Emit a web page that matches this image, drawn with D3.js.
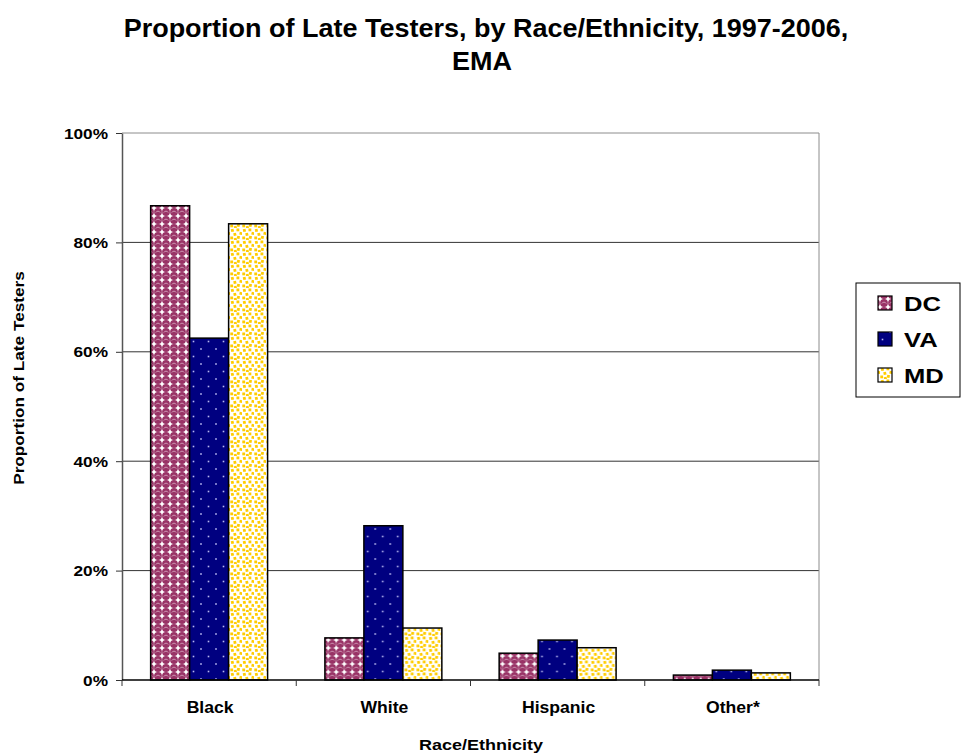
<!DOCTYPE html>
<html>
<head>
<meta charset="utf-8">
<script src="https://cdn.jsdelivr.net/npm/d3@7"></script>
<style>
  body { margin: 0; background: #fff; }
  svg { display: block; font-family: "Liberation Sans", Arial, sans-serif; }
</style>
</head>
<body>
<svg id="chart" width="963" height="753"></svg>
<script>
// Late testers by race/ethnicity, 1997-2006
const categories = ["Black", "White", "Hispanic", "Other*"];
const seriesNames = ["DC", "VA", "MD"];
const dcValues = [0.867, 0.077, 0.049, 0.009];
const vaValues = [0.625, 0.282, 0.073, 0.018];
const mdValues = [0.834, 0.095, 0.059, 0.013];
const yTicks = [0, 0.2, 0.4, 0.6, 0.8, 1.0];

const seriesValues = [dcValues, vaValues, mdValues];

const svg = d3.select("#chart");
const plot = { left: 122, right: 819, top: 133, bottom: 680 };

// Text helper: positioned via transform, with a slight horizontal stretch
function label(parent, x, y, text, size, sx, anchor, rotate) {
  const rot = rotate ? ` rotate(${rotate})` : "";
  return parent.append("text")
    .attr("transform", `translate(${x},${y})${rot} scale(${sx},1)`)
    .attr("text-anchor", anchor)
    .attr("font-size", size).attr("font-weight", "bold").attr("fill", "#000")
    .text(text);
}

// Fill patterns for each series
const defs = svg.append("defs");

// DC: maroon spheres on a square grid, white between them
const pDC = defs.append("pattern").attr("id", "pat-DC")
  .attr("patternUnits", "userSpaceOnUse").attr("width", 8).attr("height", 8);
pDC.append("rect").attr("width", 8).attr("height", 8).attr("fill", "#ffffff");
pDC.append("circle").attr("cx", 4).attr("cy", 4).attr("r", 3.9).attr("fill", "#993366");
pDC.append("path")
  .attr("d", "M1.8,4.6 A2.4,2.4 0 0 1 6.2,4.6")
  .attr("fill", "none").attr("stroke", "#d9a9c1").attr("stroke-width", 0.8);

// VA: navy with sparse light dots
const pVA = defs.append("pattern").attr("id", "pat-VA")
  .attr("patternUnits", "userSpaceOnUse").attr("width", 15).attr("height", 15);
pVA.append("rect").attr("width", 15).attr("height", 15).attr("fill", "#000080");
[[4, 4], [11.5, 11.5]].forEach(([cx, cy]) => {
  pVA.append("rect").attr("x", cx - 0.8).attr("y", cy - 0.8)
    .attr("width", 1.6).attr("height", 1.6).attr("fill", "#b8b8f0");
});

// MD: white with scattered yellow squares
const pMD = defs.append("pattern").attr("id", "pat-MD")
  .attr("patternUnits", "userSpaceOnUse").attr("width", 12).attr("height", 12);
pMD.append("rect").attr("width", 12).attr("height", 12).attr("fill", "#ffffff");
[[1, 1], [6.5, 0.5], [9.5, 4], [3.5, 5], [0.3, 8.5], [7, 8], [4, 10]].forEach(([x, y], i) => {
  pMD.append("rect").attr("x", x).attr("y", y).attr("width", 2.8).attr("height", 2.8)
    .attr("fill", "#ffcc00")
    .attr("transform", `rotate(${(i % 3) * 12 - 12},${x + 1.4},${y + 1.4})`);
});

const fills = { DC: "url(#pat-DC)", VA: "url(#pat-VA)", MD: "url(#pat-MD)" };

// Scales
const x0 = d3.scaleBand().domain(categories).range([plot.left, plot.right]).paddingInner(0).paddingOuter(0);
const x1 = d3.scaleBand().domain(seriesNames).range([0, x0.bandwidth()]).paddingInner(0).paddingOuter(0.735);
const y = d3.scaleLinear().domain([0, 1]).range([plot.bottom, plot.top]);

// Gridlines
svg.append("g").selectAll("line").data(yTicks.filter(t => t > 0)).join("line")
  .attr("x1", plot.left).attr("x2", plot.right)
  .attr("y1", d => y(d)).attr("y2", d => y(d))
  .attr("stroke", d => d === 1 ? "#8c8c8c" : "#333").attr("stroke-width", 1);

// Right border of plot area
svg.append("line").attr("x1", plot.right).attr("x2", plot.right)
  .attr("y1", plot.top).attr("y2", plot.bottom)
  .attr("stroke", "#8c8c8c").attr("stroke-width", 1);

// Bars
const groups = svg.append("g").selectAll("g").data(categories).join("g")
  .attr("transform", d => `translate(${x0(d)},0)`);
groups.selectAll("rect")
  .data((c, ci) => seriesNames.map((s, si) => ({ s, v: seriesValues[si][ci] })))
  .join("rect")
  .attr("x", d => x1(d.s))
  .attr("y", d => y(d.v))
  .attr("width", x1.bandwidth())
  .attr("height", d => y(0) - y(d.v))
  .attr("fill", d => fills[d.s])
  .attr("stroke", "#000").attr("stroke-width", 1.5);

// Y axis
const yAxis = svg.append("g").attr("transform", `translate(${plot.left},0)`)
  .call(d3.axisLeft(y).tickValues(yTicks).tickFormat("").tickSize(6).tickSizeOuter(0));
yAxis.select(".domain").attr("stroke", "#555").attr("stroke-width", 1.5);
yAxis.selectAll(".tick line").attr("stroke", "#333");
const fmt = d3.format(".0%");
yTicks.forEach(t => label(svg, 108, y(t) + 5.5, fmt(t), 15.4, 1.12, "end"));

// X axis
const xAxis = svg.append("g").attr("transform", `translate(0,${plot.bottom})`);
xAxis.append("line").attr("x1", plot.left).attr("x2", plot.right)
  .attr("stroke", "#000").attr("stroke-width", 1.5);
const boundaries = categories.map(c => x0(c)).concat([plot.right]);
xAxis.selectAll("line.tk").data(boundaries).join("line").attr("class", "tk")
  .attr("x1", d => d).attr("x2", d => d).attr("y1", 0).attr("y2", 6)
  .attr("stroke", "#333");
categories.forEach(c => label(svg, x0(c) + x0.bandwidth() / 2 + 1, 713, c, 16, 1.1, "middle"));

// Titles
label(svg, 486, 37, "Proportion of Late Testers, by Race/Ethnicity, 1997-2006,", 25, 1.08, "middle");
label(svg, 482, 70, "EMA", 25, 1.08, "middle");

label(svg, 481, 750, "Race/Ethnicity", 15, 1.2, "middle");
label(svg, 24, 378, "Proportion of Late Testers", 14.7, 1.17, "middle", -90);

// Legend
const legend = svg.append("g").attr("transform", "translate(856,283)");
legend.append("rect").attr("width", 104).attr("height", 114)
  .attr("fill", "#fff").attr("stroke", "#000").attr("stroke-width", 1);
seriesNames.forEach((s, i) => {
  const cy = 20 + i * 36;
  legend.append("rect").attr("x", 22).attr("y", cy - 7).attr("width", 14).attr("height", 14)
    .attr("fill", fills[s]).attr("stroke", "#000").attr("stroke-width", 1.2);
  label(legend, 48, cy + 7.5, s, 21, 1.22, "start");
});
</script>
</body>
</html>
